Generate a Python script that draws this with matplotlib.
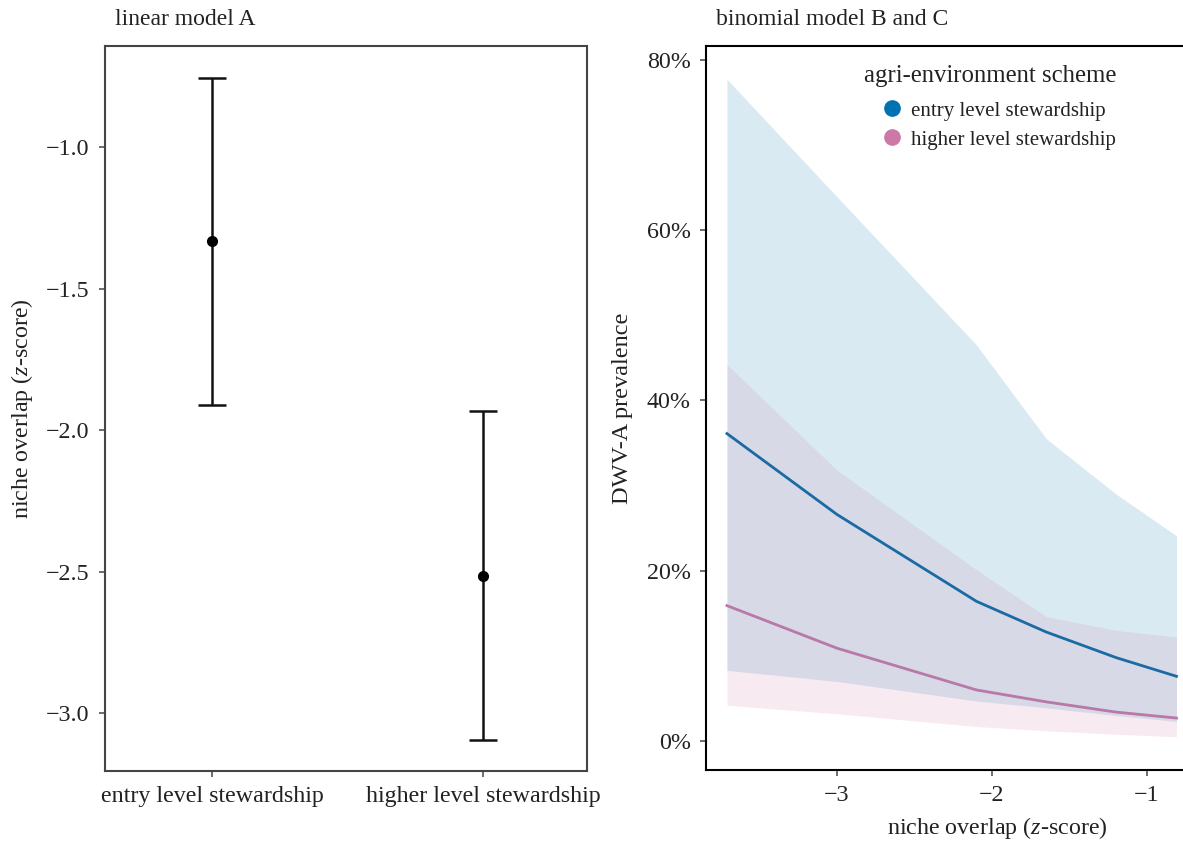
import numpy as np
import matplotlib
matplotlib.use("Agg")
import matplotlib.pyplot as plt
from matplotlib.lines import Line2D

plt.rcParams['font.family'] = ['Liberation Serif', 'DejaVu Serif']
plt.rcParams['mathtext.fontset'] = 'custom'
plt.rcParams['mathtext.rm'] = 'Liberation Serif'
plt.rcParams['mathtext.it'] = 'Liberation Serif:italic'

# panel A: linear model estimates
schemes = ['entry level stewardship', 'higher level stewardship']
est = [-1.332, -2.516]
ci_low = [-1.912, -3.095]
ci_high = [-0.756, -1.933]

# panel B/C: binomial model predictions (percent)
z = [-3.71, -3.0, -2.1, -1.65, -1.2, -0.81]
els_fit = [36.1, 26.6, 16.4, 12.8, 9.8, 7.6]
els_lo = [8.3, 7.0, 4.7, 3.9, 3.0, 2.3]
els_hi = [77.7, 63.9, 46.5, 35.5, 29.0, 24.1]
hls_fit = [15.9, 10.9, 6.0, 4.6, 3.4, 2.7]
hls_lo = [4.2, 3.2, 1.7, 1.2, 0.8, 0.5]
hls_hi = [44.2, 31.8, 20.1, 14.6, 13.0, 12.2]

blue = '#0072B2'
pink = '#CC79A7'
txt = '#222222'

fig = plt.figure(figsize=(11.83, 8.41), dpi=100)

# ---- left panel
ax1 = fig.add_axes([0.0888, 0.0832, 0.4074, 0.8621])
xpos = np.arange(len(schemes))
yerr = [np.array(est) - np.array(ci_low), np.array(ci_high) - np.array(est)]
ax1.errorbar(xpos, est, yerr=yerr, fmt='o', color='black', ms=7,
             ecolor='#111111', elinewidth=1.8, capsize=10, capthick=1.8)
ax1.set_xlim(-0.395, 1.384)
ax1.set_ylim(-3.205, -0.643)
ax1.set_xticks(xpos)
ax1.set_xticklabels(schemes)
ax1.set_yticks([-1.0, -1.5, -2.0, -2.5, -3.0])
ax1.set_yticklabels(['\u22121.0', '\u22121.5', '\u22122.0', '\u22122.5', '\u22123.0'])
ax1.set_ylabel(r'niche overlap ($\it{z}$-score)', fontsize=17.3, labelpad=8, color=txt)
for s in ax1.spines.values():
    s.set_color('#444444')
    s.set_linewidth(1.5)
ax1.tick_params(labelsize=17.3, length=4, color='#555555', width=1.2, pad=7,
                labelcolor=txt)
ax1.set_title('linear model A', loc='left', fontsize=17, pad=15, x=0.02, color=txt)

# ---- right panel
ax2 = fig.add_axes([0.5968, 0.0844, 0.4121, 0.8609])
ax2.fill_between(z, els_lo, els_hi, color=blue, alpha=0.15, lw=0)
ax2.fill_between(z, hls_lo, hls_hi, color=pink, alpha=0.15, lw=0)
ax2.plot(z, els_fit, color='#1a6aa3', lw=2)
ax2.plot(z, hls_fit, color='#b878a8', lw=2)
ax2.set_xlim(-3.845, -0.7)
ax2.set_ylim(-3.4, 81.6)
ax2.set_xticks([-3, -2, -1])
ax2.set_xticklabels(['\u22123', '\u22122', '\u22121'])
ax2.set_yticks([0, 20, 40, 60, 80])
ax2.set_yticklabels(['0%', '20%', '40%', '60%', '80%'])
ax2.set_ylabel('DWV-A prevalence', fontsize=17.5, labelpad=10, color=txt)
ax2.set_xlabel(r'niche overlap ($\it{z}$-score)', fontsize=17.3, color=txt)
ax2.xaxis.set_label_coords(0.597, -0.062)
for s in ax2.spines.values():
    s.set_color('black')
    s.set_linewidth(1.5)
ax2.tick_params(labelsize=17.3, length=4, color='#555555', width=1.2, pad=7,
                labelcolor=txt)
ax2.set_title('binomial model B and C', loc='left', fontsize=17, pad=15, x=0.02, color=txt)

handles = [Line2D([], [], ls='', marker='o', ms=11, color=blue),
           Line2D([], [], ls='', marker='o', ms=11, color=pink)]
leg = ax2.legend(handles, schemes, title='agri-environment scheme',
                 loc='upper left', bbox_to_anchor=(0.7215, 0.935),
                 bbox_transform=fig.transFigure, frameon=False,
                 fontsize=15, title_fontsize=17.8, handletextpad=-0.45,
                 labelspacing=0.45, borderpad=0, handlelength=2.7)
leg._legend_box.align = 'left'
leg._legend_box.sep = 10
leg.get_title().set_color(txt)
for t in leg.get_texts():
    t.set_color(txt)

fig.savefig('out.png', dpi=100)
